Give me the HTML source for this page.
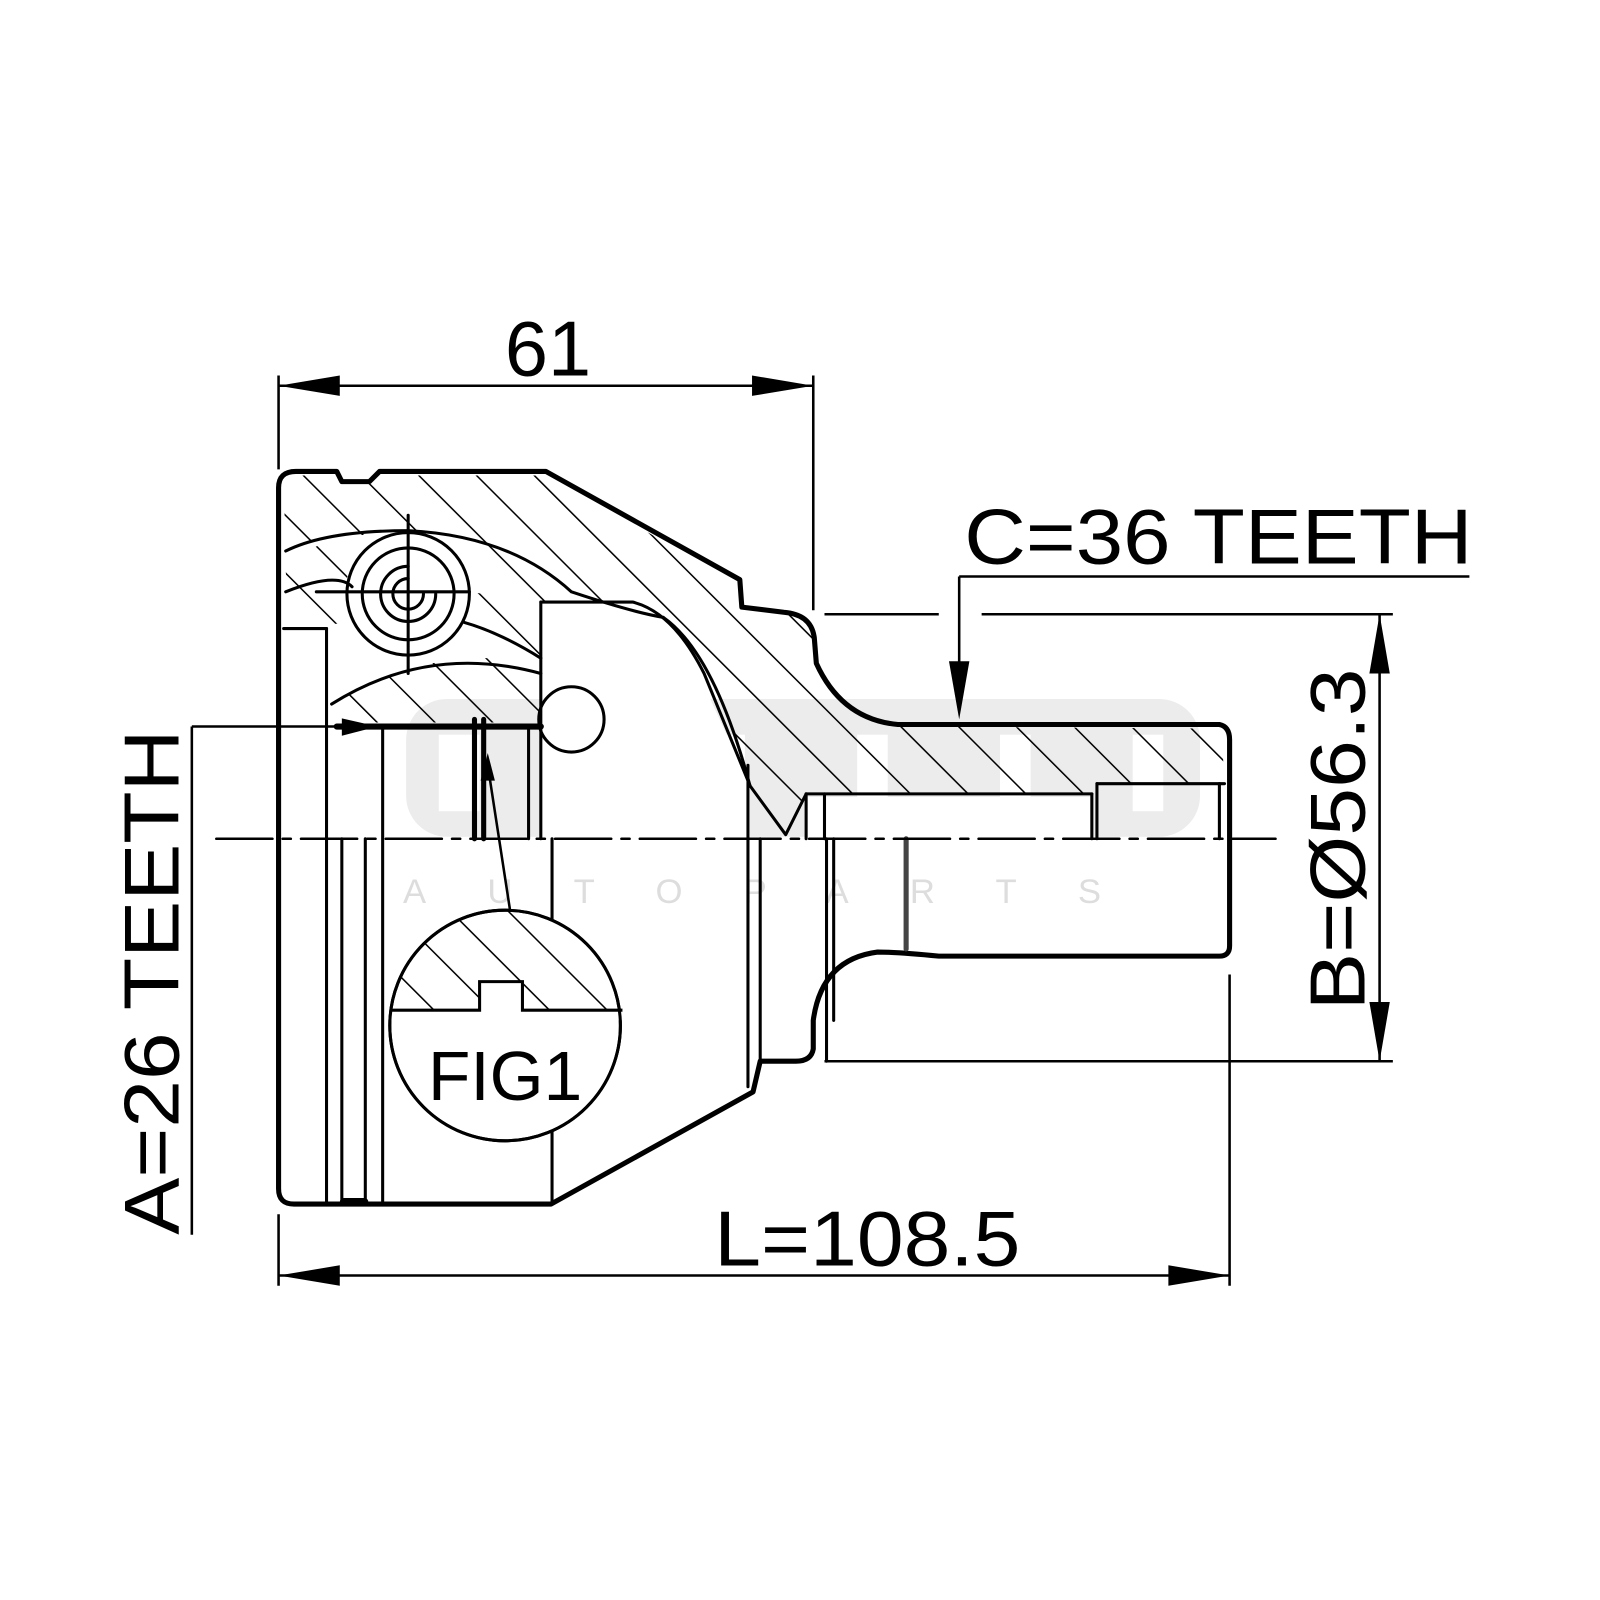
<!DOCTYPE html>
<html><head><meta charset="utf-8"><style>html,body{margin:0;padding:0;background:#fff}svg{display:block}</style></head>
<body>
<svg width="1600" height="1600" viewBox="0 0 1568 1568" xmlns="http://www.w3.org/2000/svg" font-family="Liberation Sans, Arial, sans-serif">
<defs>
<pattern id="h" patternUnits="userSpaceOnUse" width="40" height="40" patternTransform="rotate(-45)">
<line x1="0" y1="0" x2="0" y2="40" stroke="#000" stroke-width="3"/>
</pattern>
</defs>
<rect width="1568" height="1568" fill="#fff"/>
<!-- watermark -->
<rect x="398" y="685" width="778" height="135" rx="40" fill="#ececec"/>
<g fill="#fff"><rect x="430" y="720" width="40" height="75"/><rect x="560" y="720" width="30" height="75"/><rect x="700" y="720" width="30" height="75"/><rect x="840" y="720" width="30" height="75"/><rect x="980" y="720" width="30" height="75"/><rect x="1110" y="720" width="30" height="75"/></g>
<text x="395" y="885" font-size="34" fill="#ddd" letter-spacing="60">AUTOPARTS</text>

<!-- hatched regions -->
<path d="M278,478 Q278,466 290,466 L330,466 L335,474 L362,474 L372,466 L535,466 L725,572 L727,597 L768,602 Q795,604 798,627 L800,652 Q825,707 880,712 L1197,714 L1200,768 L1075,768 L1070,778 L790,778 L770,818 L735,770 Q700,650 650,605 Q600,585 530,590 Q460,540 400,525 Q320,520 280,540 Z" fill="url(#h)"/>
<path d="M280,560 Q310,520 345,540 L345,610 L285,615 Z" fill="url(#h)"/>
<path d="M325,690 Q420,630 530,650 L530,708 L330,708 Z" fill="url(#h)"/>
<path d="M460,580 L530,590 L530,645 Q490,620 455,610 Z" fill="url(#h)"/>
<!-- clear ball area -->
<circle cx="400" cy="582" r="62" fill="#fff"/>
<path d="M530,592 L620,592 Q650,610 680,650 L735,770 L735,822 L530,822 Z" fill="#fff"/>
<path d="M790,781 L1070,781 L1070,822 L790,822 Z" fill="#fff"/>

<g fill="none" stroke="#000" stroke-linecap="round" stroke-linejoin="round">
<!-- outer body -->
<path stroke-width="5" d="M273,1165 L273,478 Q273,462 290,462 L330,462 L335,472 L362,472 L372,462 L535,462 L725,568 L727,595 L768,600 Q795,602 798,625 L800,650 Q825,705 880,710 L1195,710 Q1205,712 1205,725 L1205,927 Q1205,937 1195,937 L920,937 Q880,933 860,933 Q805,940 797,1000 L797,1028 Q795,1040 780,1040 L745,1040 L738,1070 L540,1180 L288,1180 Q273,1180 273,1165 Z"/>
<g stroke-width="3">
<line x1="320" y1="616" x2="320" y2="1178"/>
<line x1="335" y1="822" x2="335" y2="1178"/>
<line x1="358" y1="822" x2="358" y2="1178"/>
<line x1="375" y1="712" x2="375" y2="1180"/>
<line x1="278" y1="616" x2="320" y2="616"/>
<line x1="541" y1="822" x2="541" y2="1180"/>
<line x1="733" y1="750" x2="733" y2="1065"/>
<line x1="745" y1="822" x2="745" y2="1040"/>
<line x1="530" y1="590" x2="530" y2="822"/>
<line x1="518" y1="712" x2="518" y2="822"/>
<path d="M530,590 L620,590 Q660,600 690,660 L735,770"/>
<path d="M280,540 Q320,520 400,520 Q500,525 560,580 Q620,600 650,605"/>
<path d="M280,580 Q330,560 345,575"/>
<path d="M325,690 Q420,630 530,660"/>
<path d="M455,610 Q490,620 530,645"/>
<path d="M650,605 Q700,640 735,770 L770,818 L790,778"/>
<line x1="790" y1="778" x2="1070" y2="778"/>
<line x1="790" y1="778" x2="790" y2="822"/>
<line x1="808" y1="778" x2="808" y2="822"/>
<line x1="1070" y1="778" x2="1070" y2="822"/>
<line x1="1075" y1="768" x2="1200" y2="768"/>
<line x1="1195" y1="768" x2="1195" y2="822"/>
<line x1="1075" y1="768" x2="1075" y2="822"/>
<line x1="810" y1="822" x2="810" y2="1040"/>
<line x1="817" y1="822" x2="817" y2="1000"/>
</g>
<line x1="888" y1="822" x2="888" y2="930" stroke-width="5" stroke="#444"/>
<line x1="330" y1="712" x2="530" y2="712" stroke-width="6"/>
<line x1="465" y1="705" x2="465" y2="822" stroke-width="5"/>
<line x1="474" y1="705" x2="474" y2="822" stroke-width="5"/>
<line x1="337" y1="1178" x2="357" y2="1178" stroke-width="8"/>
<circle cx="400" cy="582" r="60" stroke-width="3"/>
<circle cx="400" cy="582" r="45" stroke-width="3"/>
<path d="M400,555 A27,27 0 1 0 427,582" stroke-width="3"/>
<path d="M400,567 A15,15 0 1 0 415,582" stroke-width="3"/>
<line x1="400" y1="505" x2="400" y2="660" stroke-width="3"/>
<line x1="310" y1="580" x2="460" y2="580" stroke-width="3"/>
<circle cx="560" cy="705" r="32" stroke-width="3"/>
<line x1="212" y1="822" x2="1250" y2="822" stroke-width="2.5" stroke-dasharray="55,10,8,10"/>
<path d="M478,750 L500,893" stroke-width="2.5"/>
<circle cx="495" cy="1005" r="113" fill="#fff" stroke-width="3"/>
</g>
<clipPath id="fc"><circle cx="495" cy="1005" r="112"/></clipPath>
<rect x="380" y="890" width="230" height="100" fill="url(#h)" clip-path="url(#fc)"/>
<path d="M382,990 L470,990 L470,962 L512,962 L512,990 L610,990 L610,1000 L382,1000 Z" fill="#fff" stroke="none"/>
<path d="M382,990 L470,990 L470,962 L512,962 L512,990 L610,990" fill="none" stroke="#000" stroke-width="3"/>
<circle cx="495" cy="1005" r="113" fill="none" stroke="#000" stroke-width="3"/>
<text x="495" y="1078" font-size="68" text-anchor="middle">FIG1</text>
<polygon points="478,738 471,765 485,765" fill="#000"/>

<g stroke="#000" stroke-width="2.5" fill="none">
<line x1="273" y1="378" x2="797" y2="378"/>
<line x1="273" y1="368" x2="273" y2="460"/>
<line x1="797" y1="368" x2="797" y2="598"/>
<line x1="273" y1="1250" x2="1205" y2="1250"/>
<line x1="273" y1="1190" x2="273" y2="1260"/>
<line x1="1205" y1="955" x2="1205" y2="1260"/>
<line x1="808" y1="602" x2="920" y2="602"/>
<line x1="962" y1="602" x2="1365" y2="602"/>
<line x1="808" y1="1040" x2="1365" y2="1040"/>
<line x1="1352" y1="602" x2="1352" y2="1040"/>
<line x1="940" y1="565" x2="1440" y2="565"/>
<line x1="940" y1="565" x2="940" y2="690"/>
<line x1="188" y1="712" x2="188" y2="1210"/>
<line x1="188" y1="712" x2="335" y2="712"/>
</g>
<g fill="#000">
<polygon points="273,378 333,368 333,388"/>
<polygon points="797,378 737,368 737,388"/>
<polygon points="273,1250 333,1240 333,1260"/>
<polygon points="1205,1250 1145,1240 1145,1260"/>
<polygon points="1352,602 1342,660 1362,660"/>
<polygon points="1352,1040 1342,982 1362,982"/>
<polygon points="940,705 930,648 950,648"/>
<polygon points="370,712 335,704 335,721"/>
</g>
<g font-size="76" fill="#000">
<text x="537" y="368" text-anchor="middle">61</text>
<text x="945" y="552" textLength="498" lengthAdjust="spacingAndGlyphs">C=36 TEETH</text>
<text x="700" y="1240" textLength="300" lengthAdjust="spacingAndGlyphs">L=108.5</text>
<text transform="translate(175,1210) rotate(-90)" textLength="495" lengthAdjust="spacingAndGlyphs">A=26 TEETH</text>
<text transform="translate(1337,990) rotate(-90)" textLength="335" lengthAdjust="spacingAndGlyphs">B=Ø56.3</text>
</g>
</svg>
</body></html>
